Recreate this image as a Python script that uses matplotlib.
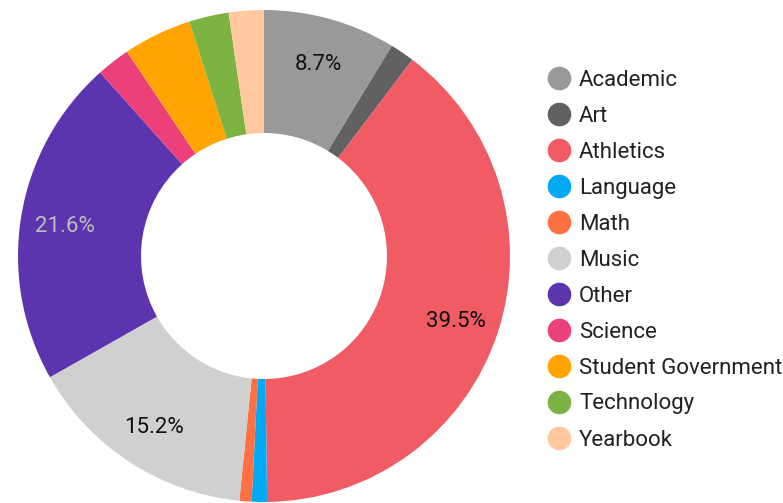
import matplotlib.pyplot as plt
from matplotlib.lines import Line2D

# ======================
# DATA
# ======================
categories = ["Academic", "Art", "Athletics", "Language", "Math", "Music",
              "Other", "Science", "Student Government", "Technology", "Yearbook"]
shares = [8.7, 1.6, 39.5, 1.0, 0.8, 15.2, 21.6, 2.2, 4.5, 2.6, 2.3]
colors = ["#999999", "#616161", "#f05b64", "#03a9f4", "#ff7043", "#d0d0d0",
          "#5c35ae", "#ec407a", "#ffa400", "#7cb342", "#ffc89e"]

plt.rcParams['font.family'] = ['Roboto', 'DejaVu Sans']

W, H = 783, 503
fig = plt.figure(figsize=(W / 100, H / 100), dpi=100)

# ======================
# DONUT
# ======================
cx, cy, R = 264, 256, 246
ax = fig.add_axes([(cx - R) / W, (H - cy - R) / H, 2 * R / W, 2 * R / H])

wedges, texts, autotexts = ax.pie(
    shares, colors=colors, startangle=90, counterclock=False, radius=1,
    wedgeprops=dict(width=0.5, linewidth=0),
    autopct=lambda p: f"{p:.1f}%" if p >= 5 else "", pctdistance=0.82,
    textprops=dict(fontsize=16, color="#111111"))
for name, t in zip(categories, autotexts):
    if name == "Other":
        t.set_color("#bdbdbd")
    # nudge labels down a touch, like the original
    x, y = t.get_position()
    t.set_position((x, y - 0.012))

# pie resets the limits, so set them afterwards
ax.set_xlim(-1, 1)
ax.set_ylim(-1, 1)
ax.axis("off")

# ======================
# LEGEND
# ======================
for i, (name, col) in enumerate(zip(categories, colors)):
    y = 1 - (78 + 36 * i) / H
    fig.add_artist(Line2D([559 / W], [y], marker="o", markersize=16,
                          color=col, linestyle="none",
                          transform=fig.transFigure))
    fig.text(579 / W, y - 2 / H, name, fontsize=16, color="#222222",
             va="center", ha="left")

fig.savefig("out.png", dpi=100)
